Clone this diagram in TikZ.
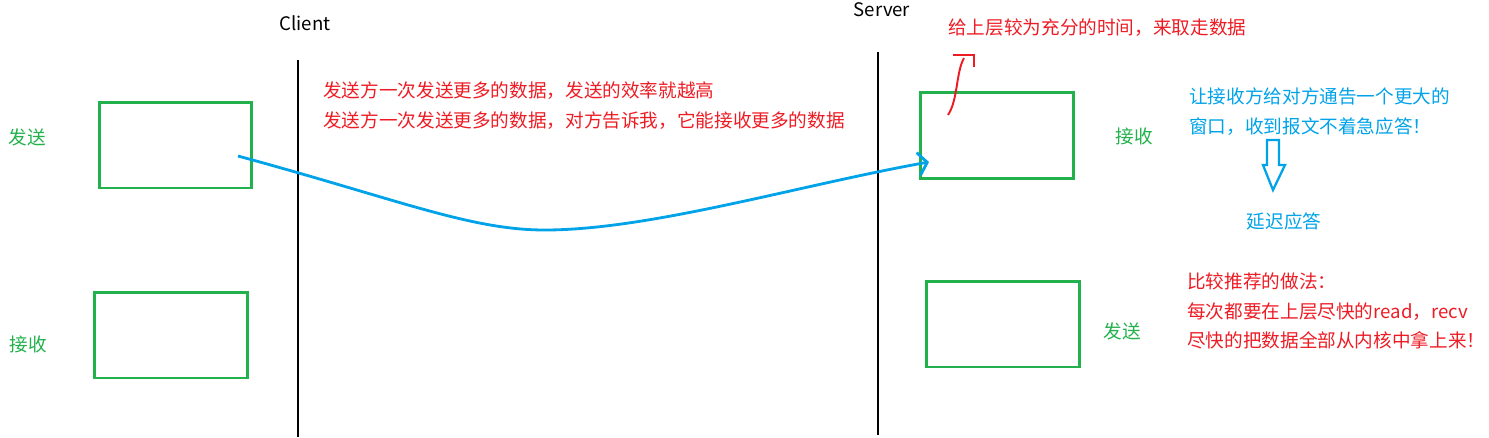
\documentclass[tikz,border=0pt]{standalone}
\usepackage{fontspec}
\setmainfont{Noto Sans CJK SC}
\usetikzlibrary{arrows.meta}
\definecolor{pgreen}{RGB}{34,177,76}
\definecolor{pblue}{RGB}{0,162,232}
\definecolor{pred}{RGB}{237,28,36}

\begin{document}
\begin{tikzpicture}[x=0.02cm, y=-0.02cm, font=\fontsize{10.6}{17}\selectfont,
    win/.style={draw=pgreen, line width=1.7pt, minimum width=3.06cm,
                minimum height=1.72cm, inner sep=0pt},
    tag/.style={text=pgreen, inner sep=0pt},
    note/.style={anchor=west, align=left, inner sep=0pt},
    life/.style={line width=1.7pt}]
    \useasboundingbox (0,0) rectangle (1489,437);
    \node[inner sep=0pt] (client) at (305,23) {Client};
    \node[inner sep=0pt] (server) at (882,10) {Server};
    \draw[life] (298,60) -- (298,437);
    \draw[life] (878,52) -- (878,435);
    \node[win] (csend) at (175.5,145) {};
    \node[win] (crecv) at (171,335) {};
    \node[win] (srecv) at (997,135.5) {};
    \node[win] (ssend) at (1003,324) {};
    \node[tag] (csendl) at (27,137) {发送};
    \node[tag] (crecvl) at (28,344) {接收};
    \node[tag] (srecvl) at (1134,136) {接收};
    \node[tag] (ssendl) at (1122,331) {发送};
    \coordinate (from) at (238,156);
    \coordinate (low) at (545,230);
    \coordinate (to) at (929,162);
    \draw[pblue, line width=1.6pt, -{Straight Barb[length=5pt,width=13pt]}]
      (from) .. controls (400,200) and (470,230) .. (low)
      .. controls (650,230) and (800,185) .. (to);
    \node[note, text=pred] (eff) at (323,105.5)
      {发送方一次发送更多的数据，发送的效率就越高\\发送方一次发送更多的数据，对方告诉我，它能接收更多的数据};
    \node[note, text=pred] (upper) at (948,28) {给上层较为充分的时间，来取走数据};
    \draw[pred, line width=1.1pt] (948,115) .. controls (958,100) and (956,72) .. (964,58);
    \draw[pred, line width=1.1pt] (953,55) -- (974,55) -- (974,67);
    \node[note, text=pblue] (win) at (1189,112)
      {让接收方给对方通告一个更大的\\窗口，收到报文不着急应答！};
    \draw[pblue, line width=1.3pt] (1267,140) -- (1279,140) -- (1279,165) -- (1285,165)
      -- (1273,190) -- (1263,165) -- (1267,165) -- cycle;
    \node[text=pblue, inner sep=0pt] (delay) at (1284,221) {延迟应答};
    \node[note, text=pred] (tip) at (1187,311)
      {比较推荐的做法：\\每次都要在上层尽快的read，recv\\尽快的把数据全部从内核中拿上来！};
\end{tikzpicture}
\end{document}
